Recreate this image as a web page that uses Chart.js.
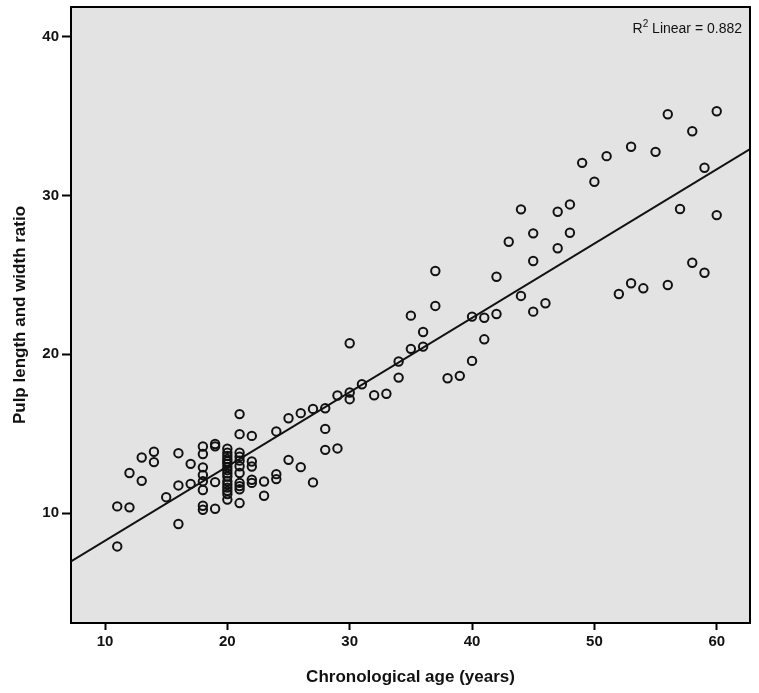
<!DOCTYPE html>
<html>
<head>
<meta charset="utf-8">
<title>Pulp ratio vs age</title>
<script src="https://cdn.jsdelivr.net/npm/chart.js@4.4.1/dist/chart.umd.min.js"></script>
<style>
  html, body { margin: 0; padding: 0; background: #fff; }
  #wrap { width: 759px; height: 693px; }
</style>
</head>
<body>
<div id="wrap"><canvas id="chart" width="759" height="693"></canvas></div>
<script>
// Chronological age (years) of each case
const ages = [
  11, 11, 12, 12, 13, 13, 14, 14, 15, 16, 16, 16, 17, 17,
  18, 18, 18, 18, 18, 18, 18, 18,
  19, 19, 19, 19,
  20, 20, 20, 20, 20, 20, 20, 20, 20, 20, 20, 20, 20, 20, 20, 20,
  21, 21, 21, 21, 21, 21, 21, 21, 21, 21, 21,
  22, 22, 22, 22, 22, 23, 23, 24, 24, 24, 25, 25, 26, 26, 27, 27,
  28, 28, 28, 29, 29, 30, 30, 30, 31, 32, 33, 34, 34, 35, 35, 36, 36,
  37, 37, 38, 39, 40, 40, 41, 41, 42, 42, 43, 44, 44, 45, 45, 45, 46,
  47, 47, 48, 48, 49, 50, 51, 52, 53, 53, 54, 55, 56, 56, 57, 58, 58,
  59, 59, 60, 60
];

// Pulp length and width ratio, same order as ages
const ratios = [
  7.90, 10.42, 10.36, 12.52, 12.03, 13.50, 13.86, 13.21, 11.00, 13.77, 11.74, 9.31, 13.10, 11.84,
  14.19, 13.72, 12.88, 12.40, 12.00, 11.45, 10.46, 10.21,
  14.35, 14.20, 11.95, 10.27,
  14.05, 13.80, 13.60, 13.40, 13.25, 13.10, 12.90, 12.70, 12.50, 12.30, 12.00, 11.80, 11.60, 11.40, 11.20, 10.85,
  16.23, 14.97, 13.80, 13.55, 13.30, 12.95, 12.52, 11.90, 11.70, 11.50, 10.63,
  14.86, 13.25, 12.93, 12.10, 11.90, 11.99, 11.09, 15.14, 12.45, 12.14, 15.97, 13.35, 16.29, 12.89, 16.56, 11.93,
  16.60, 15.30, 13.98, 17.40, 14.07, 20.69, 17.59, 17.17, 18.11, 17.42, 17.51, 19.54, 18.53, 20.34, 22.43, 21.40, 20.48,
  25.24, 23.04, 18.49, 18.64, 19.58, 22.37, 20.94, 22.30, 22.53, 24.88, 27.08, 23.67, 29.12, 22.68, 25.87, 27.61, 23.21,
  26.67, 28.97, 27.65, 29.43, 32.05, 30.86, 32.47, 23.79, 33.06, 24.47, 24.15, 32.74, 35.11, 24.36, 29.14, 34.04, 25.76,
  31.74, 25.13, 35.30, 28.76
];

// Fit line ends as they meet the plot frame
const fitAges = [7.22, 62.72];
const fitRatios = [6.96, 32.91];

const xTicks = [10, 20, 30, 40, 50, 60];
const yTicks = [10, 20, 30, 40];
const r2Value = '0.882';

const FONT = '"Liberation Sans", Arial, sans-serif';
const INK = '#111';

// grey plot background and the top/right frame lines
const plotFrame = {
  id: 'plotFrame',
  beforeDraw(chart) {
    const { ctx, chartArea: a } = chart;
    ctx.save();
    ctx.fillStyle = '#e3e3e3';
    ctx.fillRect(a.left, a.top, a.right - a.left, a.bottom - a.top);
    ctx.restore();
  },
  afterDraw(chart) {
    const { ctx, chartArea: a } = chart;
    ctx.save();
    ctx.strokeStyle = '#000';
    ctx.lineWidth = 2;
    ctx.beginPath();
    ctx.moveTo(a.left, a.top);
    ctx.lineTo(a.right, a.top);
    ctx.lineTo(a.right, a.bottom);
    ctx.stroke();
    ctx.restore();
  }
};

// "R² Linear = 0.882" in the top right corner
const r2Label = {
  id: 'r2Label',
  afterDraw(chart) {
    const { ctx, chartArea: a } = chart;
    const main = '14px ' + FONT;
    const sup = '10px ' + FONT;
    const rest = ' Linear = ' + r2Value;
    ctx.save();
    ctx.fillStyle = INK;
    ctx.textBaseline = 'alphabetic';
    ctx.font = main;
    const wR = ctx.measureText('R').width;
    const wRest = ctx.measureText(rest).width;
    ctx.font = sup;
    const wSup = ctx.measureText('2').width;
    const right = a.right - 8;
    const base = 33;
    let x = right - wRest - wSup - wR;
    ctx.font = main;
    ctx.fillText('R', x, base);
    x += wR;
    ctx.font = sup;
    ctx.fillText('2', x, base - 6);
    x += wSup;
    ctx.font = main;
    ctx.fillText(rest, x, base);
    ctx.restore();
  }
};

const points = ages.map((a, i) => ({ x: a, y: ratios[i] }));
const fitLine = fitAges.map((a, i) => ({ x: a, y: fitRatios[i] }));

new Chart(document.getElementById('chart'), {
  type: 'scatter',
  data: {
    datasets: [
      {
        label: 'Cases',
        data: points,
        pointRadius: 4.2,
        pointBorderWidth: 2,
        pointBorderColor: '#111',
        pointBackgroundColor: 'rgba(0,0,0,0)',
        showLine: false
      },
      {
        label: 'Linear fit',
        data: fitLine,
        showLine: true,
        borderColor: '#111',
        borderWidth: 2,
        pointRadius: 0
      }
    ]
  },
  options: {
    responsive: false,
    animation: false,
    layout: { padding: { top: 7, right: 9, left: 0, bottom: 0 } },
    plugins: {
      legend: { display: false },
      tooltip: { enabled: false }
    },
    scales: {
      x: {
        type: 'linear',
        min: fitAges[0],
        max: fitAges[1],
        afterBuildTicks: (axis) => { axis.ticks = xTicks.map(v => ({ value: v })); },
        afterFit: (axis) => { axis.height = 70; axis.paddingLeft = 0; axis.paddingRight = 0; },
        ticks: {
          font: { family: FONT, size: 15, weight: 'bold' },
          color: INK,
          padding: 3,
          maxRotation: 0
        },
        grid: {
          drawOnChartArea: false,
          tickLength: 7,
          tickWidth: 2,
          tickColor: '#000'
        },
        border: { color: '#000', width: 2 },
        title: {
          display: true,
          text: 'Chronological age (years)',
          font: { family: FONT, size: 17, weight: 'bold' },
          color: INK,
          padding: { top: 0, bottom: 5 }
        }
      },
      y: {
        type: 'linear',
        min: 3.08,
        max: 41.86,
        afterBuildTicks: (axis) => { axis.ticks = yTicks.map(v => ({ value: v })); },
        afterFit: (axis) => { axis.width = 71; axis.paddingTop = 0; axis.paddingBottom = 0; },
        ticks: {
          font: { family: FONT, size: 15, weight: 'bold' },
          color: INK,
          padding: 3
        },
        grid: {
          drawOnChartArea: false,
          tickLength: 9,
          tickWidth: 2,
          tickColor: '#000'
        },
        border: { color: '#000', width: 2 },
        title: {
          display: true,
          text: 'Pulp length and width ratio',
          font: { family: FONT, size: 17, weight: 'bold' },
          color: INK,
          padding: { top: 10, bottom: 0 }
        }
      }
    }
  },
  plugins: [plotFrame, r2Label]
});
</script>
</body>
</html>
